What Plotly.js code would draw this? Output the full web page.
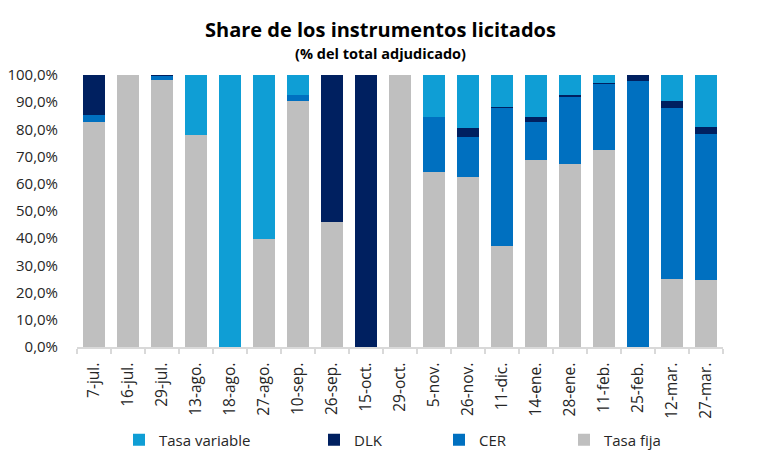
<!DOCTYPE html>
<html><head><meta charset="utf-8">
<script src="https://cdn.plot.ly/plotly-3.0.1.min.js"></script>
<style>body{margin:0;background:#fff}#c{width:761px;height:461px}</style>
</head><body><div id="c"></div>
<script>
const categories = ["7-jul.","16-jul.","29-jul.","13-ago.","18-ago.","27-ago.","10-sep.","26-sep.","15-oct.","29-oct.","5-nov.","26-nov.","11-dic.","14-ene.","28-ene.","11-feb.","25-feb.","12-mar.","27-mar."];
const tasaFija     = [82.7,100,98.2,77.9,0,39.7,90.4,46.0,0,100,64.3,62.5,37.1,68.8,67.3,72.4,0,25.0,24.6];
const cer          = [2.6,0,1.5,0,0,0,2.2,0,0,0,20.2,14.7,50.7,14.0,24.6,24.3,97.8,62.9,53.7];
const dlk          = [14.7,0,0.3,0,0,0,0,54.0,100,0,0,3.3,0.4,1.8,0.7,0.4,2.2,2.6,2.6];
const tasaVariable = [0,0,0,22.1,100,60.3,7.4,0,0,0,15.5,19.5,11.8,15.4,7.4,2.9,0,9.5,19.1];
const yTicks = [0,10,20,30,40,50,60,70,80,90,100];
const yTickText = yTicks.map(v => v.toFixed(1).replace(".", ",") + "%");

const font = "Open Sans, sans-serif";
function tr(name, y, color, lg){
  return {type:"bar", name:name, x:categories, y:y, legend:lg, marker:{color:color, line:{width:0}}, hoverinfo:"y+name"};
}
const data = [
  tr("Tasa fija", tasaFija, "#BFBFBF", "legend2"),
  tr("CER", cer, "#0070C0", "legend2"),
  tr("DLK", dlk, "#002060", "legend2"),
  tr("Tasa variable", tasaVariable, "#0F9ED5", "legend")
];
const legendBase = {orientation:"h", xref:"container", yref:"container", xanchor:"left", y:21/461, yanchor:"middle",
                    traceorder:"reversed", font:{size:15, color:"#262626"}, bgcolor:"rgba(0,0,0,0)"};
const layout = {
  width:761, height:461,
  margin:{l:77, r:38, t:75, b:114, autoexpand:false},
  barmode:"stack", bargap:0.38,
  paper_bgcolor:"#fff", plot_bgcolor:"#fff",
  font:{family:font, color:"#262626", size:15},
  annotations:[
    {text:"<b>Share de los instrumentos licitados</b>", xref:"paper", yref:"paper", x:(380-77)/646, xanchor:"center",
     y:(347-30)/272, yanchor:"middle", showarrow:false, font:{family:font, size:20, color:"#000"}},
    {text:"<b>(% del total adjudicado)</b>", xref:"paper", yref:"paper", x:(380-77)/646, xanchor:"center",
     y:(347-53)/272, yanchor:"middle", showarrow:false, font:{family:font, size:14.5, color:"#000"}}
  ],
  xaxis:{type:"category", tickangle:-90, tickson:"boundaries", ticks:"outside", ticklen:5, tickcolor:"#D9D9D9", tickwidth:1.5,
         showline:true, linecolor:"#D9D9D9", linewidth:1.5, showgrid:false, automargin:false, ticklabelstandoff:8,
         tickfont:{size:15.5, color:"#262626"}},
  yaxis:{range:[0,100], tickmode:"array", tickvals:yTicks, ticktext:yTickText, showgrid:false, showline:false, zeroline:false,
         automargin:false, ticklabelstandoff:18, tickfont:{size:15, color:"#262626"}, ticks:""},
  legend:Object.assign({}, legendBase, {x:119/761}),
  legend2:Object.assign({}, legendBase, {x:314/761, entrywidth:80, entrywidthmode:"pixels"}),
  showlegend:true
};
Plotly.newPlot("c", data, layout, {displayModeBar:false, staticPlot:true});
</script></body></html>
